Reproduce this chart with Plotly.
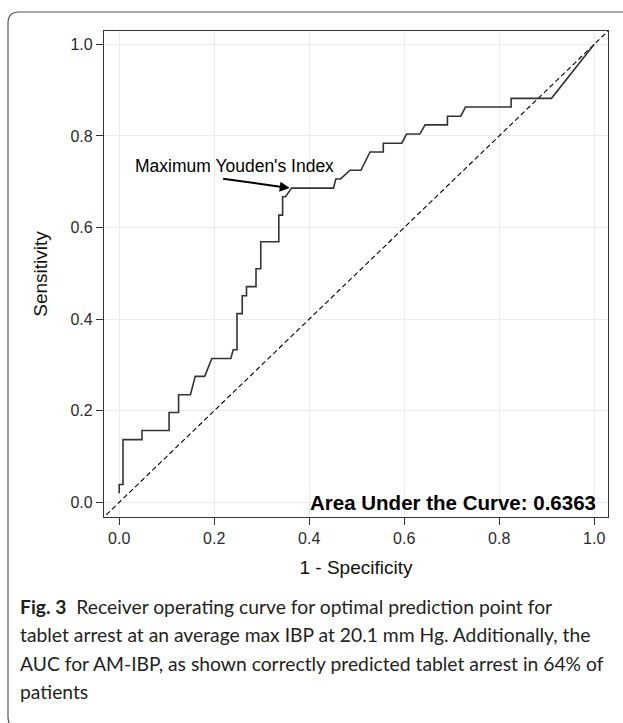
import plotly.graph_objects as go

# ---- data ----
fpr = [0.0, 0.0, 0.008, 0.008, 0.048, 0.048, 0.105, 0.105, 0.125, 0.125,
       0.150, 0.160, 0.180, 0.195, 0.235, 0.240, 0.248, 0.248, 0.259, 0.259,
       0.268, 0.268, 0.288, 0.288, 0.298, 0.298, 0.336, 0.336, 0.344, 0.344,
       0.350, 0.363, 0.451, 0.456, 0.466, 0.486, 0.509, 0.528, 0.556, 0.556,
       0.595, 0.605, 0.633, 0.644, 0.691, 0.691, 0.719, 0.729, 0.825, 0.825,
       0.910, 1.0]
tpr = [0.0196, 0.039, 0.039, 0.137, 0.137, 0.157, 0.157, 0.196, 0.196, 0.235,
       0.235, 0.275, 0.275, 0.314, 0.314, 0.333, 0.333, 0.412, 0.412, 0.451,
       0.451, 0.471, 0.471, 0.510, 0.510, 0.569, 0.569, 0.627, 0.627, 0.667,
       0.667, 0.686, 0.686, 0.706, 0.706, 0.725, 0.725, 0.765, 0.765, 0.784,
       0.784, 0.804, 0.804, 0.824, 0.824, 0.843, 0.843, 0.863, 0.863, 0.882,
       0.882, 1.0]
diag = [-0.1, 1.1]
tick_vals = [0.0, 0.2, 0.4, 0.6, 0.8, 1.0]
tick_text = ["0.0", "0.2", "0.4", "0.6", "0.8", "1.0"]
auc_label = "Area Under the Curve: 0.6363"
youden_label = "Maximum Youden's Index"
youden_point = (0.359, 0.686)
youden_tail = (0.2156, 0.707)
youden_text_pos = (0.2436, 0.734)
caption_lines = [
    "<b>Fig. 3</b>  Receiver operating curve for optimal prediction point for",
    "tablet arrest at an average max IBP at 20.1 mm Hg. Additionally, the",
    "AUC for AM-IBP, as shown correctly predicted tablet arrest in 64% of",
    "patients",
]

# ---- layout geometry (pixels) ----
W, H = 623, 723
L, R, T, B = 104, 15, 31, 206
PW, PH = W - L - R, H - T - B


def px(x):
    return (x - L) / PW


def py(y):
    return (H - B - y) / PH


AX = "Liberation Sans, Arial, sans-serif"
CAP = "Lato, sans-serif"

fig = go.Figure()
fig.add_trace(go.Scatter(x=diag, y=diag, mode="lines",
                         line=dict(color="#000000", width=1.1, dash="5px,3px"),
                         hoverinfo="skip", showlegend=False))
fig.add_trace(go.Scatter(x=fpr, y=tpr, mode="lines",
                         line=dict(color="#333333", width=1.6),
                         showlegend=False))

axis_common = dict(
    showline=True, mirror=True, linecolor="#333333", linewidth=1.3,
    showgrid=True, gridcolor="#EBEBEB", gridwidth=1, zeroline=False,
    ticks="outside", ticklen=7, tickwidth=1.2, tickcolor="#333333",
    tickvals=tick_vals, ticktext=tick_text,
    tickfont=dict(family=AX, size=16, color="#2b2b2b"),
)
fig.update_xaxes(range=[-0.032, 1.029], **axis_common,
                 title=dict(text="1 - Specificity", standoff=14,
                            font=dict(family=AX, size=19, color="#111111")))
fig.update_yaxes(range=[-0.032, 1.029], **axis_common,
                 title=dict(text="Sensitivity", standoff=17,
                            font=dict(family=AX, size=19, color="#111111")))

ann = []
ann.append(dict(x=youden_point[0], y=youden_point[1], xref="x", yref="y",
                ax=youden_tail[0], ay=youden_tail[1], axref="x", ayref="y",
                text="", showarrow=True, arrowhead=2, arrowsize=1,
                arrowwidth=2, arrowcolor="#000000"))
ann.append(dict(x=youden_text_pos[0], y=youden_text_pos[1], xref="x", yref="y",
                text=youden_label, showarrow=False, xanchor="center",
                yanchor="middle", font=dict(family=AX, size=17.5, color="#000000")))
ann.append(dict(x=1.0084, y=0.0, xref="x", yref="y", text="<b>%s</b>" % auc_label,
                showarrow=False, xanchor="right", yanchor="middle",
                font=dict(family=AX, size=20.5, color="#000000")))
cap_y = [606, 634.5, 663, 691.5]
for line, yy in zip(caption_lines, cap_y):
    ann.append(dict(x=px(18), y=py(yy), xref="paper", yref="paper", text=line,
                    showarrow=False, xanchor="left", yanchor="middle",
                    align="left", font=dict(family=CAP, size=19.3, color="#231f20")))

# rounded frame around figure + caption (bottom runs off the page)
fx0, fy0, fr = 8, 12, 11
fx1, fy1 = 660, 728
path = ("M {a},{b} L {c},{b} Q {d},{b} {d},{e} L {d},{f} Q {d},{g} {c},{g} L {a},{g}"
        .format(a=px(fx1), b=py(fy0), c=px(fx0 + fr), d=px(fx0),
                e=py(fy0 + fr), f=py(fy1 - fr), g=py(fy1)))
shapes = [dict(type="path", xref="paper", yref="paper", path=path,
               line=dict(color="#555555", width=1.2), layer="above")]

fig.update_layout(
    width=W, height=H,
    margin=dict(l=L, r=R, t=T, b=B, autoexpand=False),
    paper_bgcolor="white", plot_bgcolor="white",
    annotations=ann, shapes=shapes, showlegend=False,
)
fig.write_html("out.html", config={"displayModeBar": False},
               post_script="document.body.style.margin='0px';document.body.style.overflow='hidden';")
